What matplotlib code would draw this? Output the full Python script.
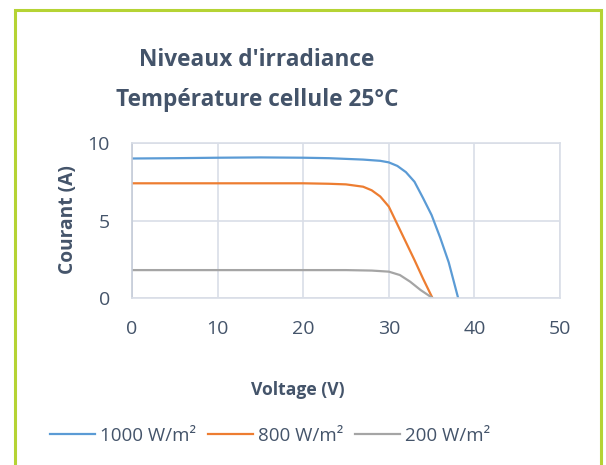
"""I-V curves of a PV module for three irradiance levels (cell at 25 °C)."""

import matplotlib
matplotlib.use("Agg")
import matplotlib.pyplot as plt
from matplotlib.patches import Rectangle

plt.rcParams["font.family"] = ["Open Sans", "DejaVu Sans"]

TXT = "#44546A"

# ---- data -----------------------------------------------------------
v_1000 = [0, 5, 10, 15, 20, 23, 27, 29, 30, 31, 32, 33, 34, 35, 36, 37, 38.1]
i_1000 = [9.0, 9.02, 9.05, 9.07, 9.05, 9.02, 8.93, 8.85, 8.75, 8.52, 8.12,
          7.5, 6.45, 5.35, 3.9, 2.3, 0]

v_800 = [0, 10, 20, 23, 25, 27, 28, 29, 30, 31, 32, 33, 34, 35.1]
i_800 = [7.4, 7.4, 7.4, 7.37, 7.33, 7.18, 6.95, 6.55, 5.9, 4.75, 3.6, 2.45,
         1.25, 0]

v_200 = [0, 10, 20, 25, 28, 30, 31.3, 32.5, 33.7, 35.1]
i_200 = [1.8, 1.8, 1.8, 1.8, 1.77, 1.7, 1.48, 1.05, 0.52, 0]

series = [
    ("1000 W/m²", v_1000, i_1000, "#5B9BD5"),
    ("800 W/m²", v_800, i_800, "#ED7D31"),
    ("200 W/m²", v_200, i_200, "#A5A5A5"),
]

W, H = 606, 465
fig = plt.figure(figsize=(W / 100, H / 100), dpi=100)

# green frame round the chart (bottom edge falls outside the picture)
fig.patches.append(Rectangle((14.5 / W, -0.05), (600.5 - 14.5) / W,
                             1.05 - 10.5 / H, transform=fig.transFigure,
                             fill=False, edgecolor="#B5D334", linewidth=2.2))

ax = fig.add_axes([132 / W, 1 - 298 / H, (560 - 132) / W, (298 - 143) / H])

for label, v, i, col in series:
    ax.plot(v, i, color=col, linewidth=1.6, label=label,
            solid_joinstyle="round")

ax.set_xlim(0, 50)
ax.set_ylim(0, 10)
ax.set_xticks(range(0, 51, 10))
ax.set_yticks([0, 5, 10])
ax.grid(True, color="#D9DEE7", linewidth=1.2)
ax.set_axisbelow(True)
for s in ax.spines.values():
    s.set_color("#D9DEE7")
    s.set_linewidth(1.2)
ax.spines["left"].set_color("#C5CCD8")
ax.tick_params(length=0, labelsize=14, colors=TXT)
ax.tick_params(axis="x", pad=16)
ax.tick_params(axis="y", pad=16)

fig.text(257 / W, 1 - 60 / H, "Niveaux d'irradiance", ha="center",
         va="center", fontsize=16.3, fontweight="bold", color=TXT)
fig.text(257 / W, 1 - 100 / H, "Température cellule 25°C", ha="center",
         va="center", fontsize=16.3, fontweight="bold", color=TXT)
fig.text(298 / W, 1 - 390 / H, "Voltage (V)", ha="center", va="center",
         fontsize=12.6, fontweight="bold", color=TXT)
fig.text(68 / W, 1 - 220 / H, "Courant (A)", ha="center", va="center",
         rotation=90, fontsize=13.8, fontweight="bold", color=TXT)

leg = fig.legend(loc="center", bbox_to_anchor=(270 / W, 1 - 436 / H),
                 ncol=3, frameon=False, fontsize=13.5, handlelength=2.4,
                 handletextpad=0.27, columnspacing=0.64)
for t in leg.get_texts():
    t.set_color(TXT)

fig.savefig("out.png", dpi=100)
